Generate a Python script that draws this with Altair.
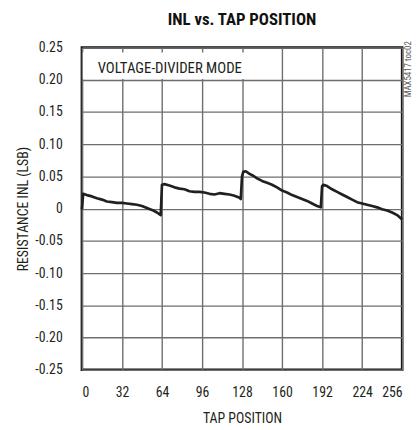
import altair as alt
import pandas as pd

title_text = "INL vs. TAP POSITION"
x_title = "TAP POSITION"
y_title = "RESISTANCE INL (LSB)"
note_text = "VOLTAGE-DIVIDER MODE"
side_text = "MAX5417 toc02"

x_ticks = [0, 32, 64, 96, 128, 160, 192, 224, 256]
y_ticks = [-0.25, -0.20, -0.15, -0.10, -0.05, 0.0, 0.05, 0.10, 0.15, 0.20, 0.25]

tap = [0, 1, 4, 8, 12, 16, 20, 24, 28, 32, 36, 40, 44, 48, 52, 56, 60, 63,
       64, 66, 70, 74, 78, 82, 86, 90, 94, 98, 102, 106, 110, 114, 118, 122, 126, 127,
       128, 129, 131, 134, 137, 140, 144, 148, 152, 156, 160, 164, 168, 172, 176, 180, 184, 188, 191,
       192, 193, 196, 200, 204, 208, 212, 216, 220, 224, 228, 232, 236, 240, 244, 248, 252, 256]
inl = [-0.001, 0.023, 0.021, 0.019, 0.016, 0.014, 0.011, 0.010, 0.009, 0.009, 0.008, 0.007, 0.006, 0.004, 0.001, -0.002, -0.006, -0.010,
       0.037, 0.038, 0.036, 0.033, 0.031, 0.030, 0.027, 0.026, 0.026, 0.025, 0.023, 0.022, 0.024, 0.023, 0.022, 0.020, 0.017, 0.015,
       0.050, 0.057, 0.058, 0.054, 0.051, 0.047, 0.043, 0.040, 0.037, 0.033, 0.028, 0.025, 0.021, 0.018, 0.015, 0.012, 0.008, 0.004, 0.002,
       0.035, 0.037, 0.035, 0.030, 0.026, 0.022, 0.018, 0.014, 0.010, 0.008, 0.006, 0.004, 0.002, -0.001, -0.003, -0.006, -0.010, -0.017]

df = pd.DataFrame({"tap": tap, "inl": inl})
one = pd.DataFrame({"note": [note_text], "side": [side_text]})

FONT = "'Liberation Sans Narrow', 'Roboto Condensed', 'DejaVu Sans Condensed', Roboto, sans-serif"

x_enc = alt.X("tap:Q", scale=alt.Scale(domain=[0, 256], nice=False),
              axis=alt.Axis(values=x_ticks, title=x_title, grid=True, domain=False,
                            ticks=False, labelPadding=16, titlePadding=13))
y_enc = alt.Y("inl:Q", scale=alt.Scale(domain=[-0.25, 0.25], nice=False),
              axis=alt.Axis(values=y_ticks, title=y_title, grid=True, domain=False,
                            ticks=False, labelPadding=20, titlePadding=4,
                            labelExpr="abs(datum.value) < 1e-9 ? '0' : (datum.value < 0 ? '-' : '') + format(abs(datum.value), '.2f')"))

line = alt.Chart(df).mark_line(color="#231f20", strokeWidth=2.7, strokeJoin="round").encode(
    x=x_enc, y=y_enc
)

box = alt.Chart(one).mark_rect(color="white", opacity=1).encode(
    x=alt.value(1), x2=alt.value(192), y=alt.value(5), y2=alt.value(32)
)

note = alt.Chart(one).mark_text(align="left", baseline="middle",
                                font=FONT, fontSize=15, color="#231f20").encode(
    text="note:N", x=alt.value(16), y=alt.value(21)
)

side = alt.Chart(one).mark_text(align="center", baseline="middle",
                                font=FONT, fontSize=9, color="#555555", angle=270).encode(
    text="side:N", x=alt.value(331), y=alt.value(22)
)

chart = alt.layer(box, line, note, side).properties(
    width=325, height=327,
    autosize=alt.AutoSizeParams(type="none"),
    padding={"left": 75, "top": 37, "right": 10, "bottom": 55},
    title=alt.TitleParams(title_text, font=FONT, fontSize=17, fontWeight="bold",
                          anchor="middle", offset=12, color="#111111"),
).configure_view(
    stroke="#111111", strokeWidth=2.6
).configure_axis(
    labelFont=FONT, titleFont=FONT, labelFontSize=14, titleFontSize=14,
    labelColor="#231f20", titleColor="#231f20", titleFontWeight="normal",
    gridColor="#6e6e6e", gridWidth=1.4, gridOpacity=1
)

chart.save("out.html", embed_options={"renderer": "svg", "actions": False})
